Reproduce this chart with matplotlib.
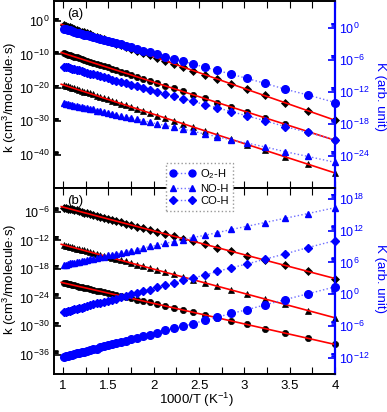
import numpy as np
import matplotlib
matplotlib.use('Agg')
import matplotlib.pyplot as plt
from matplotlib.ticker import (FixedLocator, LogFormatterSciNotation, MultipleLocator,
                               NullFormatter, FuncFormatter)
from matplotlib.lines import Line2D

plt.rcParams['font.family'] = ['Liberation Sans', 'DejaVu Sans']
plt.rcParams['mathtext.default'] = 'regular'
plt.rcParams['font.size'] = 9

# temperatures (K) of the computed points; x axis is 1000/T
temps = [250, 270, 290, 310, 330, 350, 370, 390, 410, 430, 450, 470, 490, 510, 530, 550,
         570, 590, 610, 630, 650, 670, 690, 710, 730, 750, 770, 790, 810, 830, 850, 870,
         890, 910, 930, 950, 970, 990]

# ---- panel (a): log10 k, left axis (black)
a_k_diamond = [-29.7, -26.9, -24.5, -22.3, -20.5, -18.8, -17.4, -16.1, -14.9, -13.8, -12.8,
               -11.9, -11.1, -10.3, -9.6, -9.0, -8.4, -7.8, -7.3, -6.8, -6.3, -5.9, -5.5,
               -5.1, -4.7, -4.4, -4.0, -3.7, -3.4, -3.2, -2.9, -2.6, -2.4, -2.1, -1.9, -1.7,
               -1.5, -1.3]
a_k_circle = [-35.7, -33.1, -30.9, -29.0, -27.3, -25.8, -24.4, -23.2, -22.1, -21.1, -20.2,
              -19.4, -18.7, -18.0, -17.3, -16.7, -16.2, -15.6, -15.2, -14.7, -14.3, -13.9,
              -13.5, -13.2, -12.8, -12.5, -12.2, -11.9, -11.6, -11.4, -11.1, -10.9, -10.7,
              -10.5, -10.3, -10.1, -9.9, -9.7]
a_k_triangle = [-45.5, -42.9, -40.6, -38.7, -37.0, -35.4, -34.1, -32.9, -31.8, -30.8, -29.9,
                -29.0, -28.3, -27.6, -26.9, -26.3, -25.7, -25.2, -24.7, -24.3, -23.8, -23.4,
                -23.1, -22.7, -22.4, -22.0, -21.7, -21.4, -21.2, -20.9, -20.7, -20.4, -20.2,
                -20.0, -19.8, -19.6, -19.4, -19.2]
# ---- panel (a): log10 K, right axis (blue)
a_K_o2h = [-14.0, -12.6, -11.5, -10.4, -9.5, -8.7, -8.0, -7.4, -6.8, -6.3, -5.8, -5.4, -5.0,
           -4.6, -4.3, -4.0, -3.7, -3.4, -3.1, -2.9, -2.7, -2.5, -2.3, -2.1, -1.9, -1.7,
           -1.6, -1.4, -1.3, -1.1, -1.0, -0.9, -0.8, -0.7, -0.5, -0.4, -0.3, -0.3]
a_K_coh = [-21.0, -19.6, -18.5, -17.4, -16.5, -15.7, -15.0, -14.4, -13.8, -13.3, -12.8,
           -12.4, -12.0, -11.6, -11.3, -11.0, -10.7, -10.4, -10.1, -9.9, -9.7, -9.5, -9.3,
           -9.1, -8.9, -8.7, -8.6, -8.4, -8.3, -8.1, -8.0, -7.9, -7.8, -7.7, -7.5, -7.4,
           -7.3, -7.3]
a_K_noh = [-25.2, -24.1, -23.2, -22.3, -21.6, -21.0, -20.4, -19.9, -19.4, -19.0, -18.6,
           -18.3, -18.0, -17.7, -17.4, -17.1, -16.9, -16.7, -16.5, -16.3, -16.1, -15.9,
           -15.8, -15.6, -15.5, -15.3, -15.2, -15.1, -15.0, -14.9, -14.8, -14.7, -14.6,
           -14.5, -14.4, -14.3, -14.2, -14.1]

# ---- panel (b): log10 k, left axis (black)
b_k_diamond = [-20.0, -18.5, -17.2, -16.1, -15.2, -14.3, -13.5, -12.8, -12.2, -11.6, -11.1,
               -10.6, -10.2, -9.8, -9.4, -9.1, -8.8, -8.5, -8.2, -7.9, -7.7, -7.5, -7.2,
               -7.0, -6.9, -6.7, -6.5, -6.3, -6.2, -6.0, -5.9, -5.7, -5.6, -5.5, -5.4, -5.3,
               -5.2, -5.1]
b_k_triangle = [-28.2, -26.7, -25.4, -24.3, -23.3, -22.4, -21.6, -20.9, -20.2, -19.7, -19.1,
                -18.7, -18.2, -17.8, -17.4, -17.1, -16.7, -16.4, -16.2, -15.9, -15.6, -15.4,
                -15.2, -15.0, -14.8, -14.6, -14.4, -14.3, -14.1, -14.0, -13.8, -13.7, -13.5,
                -13.4, -13.3, -13.2, -13.1, -13.0]
b_k_circle = [-33.8, -32.5, -31.4, -30.5, -29.6, -28.9, -28.2, -27.6, -27.1, -26.6, -26.2,
              -25.8, -25.4, -25.0, -24.7, -24.4, -24.1, -23.9, -23.6, -23.4, -23.2, -23.0,
              -22.8, -22.7, -22.5, -22.3, -22.2, -22.0, -21.9, -21.8, -21.7, -21.5, -21.4,
              -21.3, -21.2, -21.1, -21.0, -20.9]
# ---- panel (b): log10 K, right axis (blue)
b_K_noh = [16.3, 15.2, 14.3, 13.5, 12.8, 12.2, 11.6, 11.1, 10.7, 10.3, 9.9, 9.6, 9.2, 9.0,
           8.7, 8.4, 8.2, 8.0, 7.8, 7.6, 7.4, 7.3, 7.1, 7.0, 6.8, 6.7, 6.6, 6.5, 6.3, 6.2,
           6.1, 6.0, 5.9, 5.9, 5.8, 5.7, 5.6, 5.5]
b_K_coh = [10.1, 8.8, 7.6, 6.6, 5.7, 5.0, 4.3, 3.6, 3.1, 2.6, 2.1, 1.7, 1.3, 0.9, 0.6, 0.3,
           0.0, -0.3, -0.5, -0.8, -1.0, -1.2, -1.4, -1.6, -1.7, -1.9, -2.1, -2.2, -2.3,
           -2.5, -2.6, -2.7, -2.8, -3.0, -3.1, -3.2, -3.3, -3.4]
b_K_o2h = [1.4, 0.1, -1.0, -2.0, -2.9, -3.6, -4.3, -4.9, -5.5, -6.0, -6.4, -6.8, -7.2, -7.6,
           -7.9, -8.2, -8.5, -8.7, -9.0, -9.2, -9.4, -9.6, -9.8, -10.0, -10.2, -10.3, -10.5,
           -10.6, -10.8, -10.9, -11.0, -11.1, -11.3, -11.4, -11.5, -11.6, -11.7, -11.8]

x = 1000.0 / np.array(temps)
BLUE = '#0000ff'
DOTS = '#6f6fff'

fig = plt.figure(figsize=(3.87, 4.12), dpi=100)


def log_axis(axis, majors):
    axis.set_major_locator(FixedLocator([10.0 ** e for e in majors]))
    axis.set_minor_locator(FixedLocator([k * 10.0 ** e for e in majors for k in range(2, 10)]))
    axis.set_major_formatter(LogFormatterSciNotation())
    axis.set_minor_formatter(NullFormatter())


def panel(rect, k_sets, K_sets, lylim, rylim, lmaj, rmaj, tag, xlabels):
    ax = fig.add_axes(rect)
    ax2 = ax.twinx()
    ax.set_yscale('log')
    ax2.set_yscale('log')

    for marker, ms, logk in k_sets:
        ax.plot(x, 10.0 ** np.array(logk), ls='none', marker=marker, ms=ms,
                mfc='black', mec='black', mew=0.5, clip_on=False, zorder=3)
        p = np.polyfit(x, logk, 1)
        xf = np.array([0.98, 4.0])
        ax.plot(xf, 10.0 ** np.polyval(p, xf), color='red', lw=1.2, zorder=4)

    for marker, ms, logK in K_sets:
        ax2.plot(x, 10.0 ** np.array(logK), ls=':', lw=1.0, color=DOTS, marker=marker,
                 ms=ms, mfc=BLUE, mec=BLUE, clip_on=False)

    ax.set_xlim(0.9, 4.0)
    ax.set_ylim(*lylim)
    ax2.set_ylim(*rylim)
    log_axis(ax.yaxis, lmaj)
    log_axis(ax2.yaxis, rmaj)

    ax.xaxis.set_major_locator(MultipleLocator(0.5))
    ax.xaxis.set_minor_locator(MultipleLocator(0.25))
    ax.xaxis.set_major_formatter(FuncFormatter(lambda v, pos: '%g' % v))
    ax.tick_params(axis='x', which='both', direction='in', top=True, length=5, width=0.8,
                   labelbottom=xlabels, labelsize=9.5, pad=4)
    ax.tick_params(axis='y', which='major', direction='in', length=5, width=1.2,
                   right=False, labelsize=9, pad=3)
    ax.tick_params(axis='y', which='minor', direction='in', length=3, width=0.6, right=False)
    ax2.tick_params(axis='y', which='major', direction='in', length=5, width=1.2,
                    colors=BLUE, labelsize=9, pad=3)
    ax2.tick_params(axis='y', which='minor', direction='in', length=3, width=0.6, colors=BLUE)

    for a in (ax, ax2):
        for s in a.spines.values():
            s.set_linewidth(1.2)
    ax.spines['right'].set_visible(False)
    ax2.spines['right'].set_color(BLUE)
    ax2.spines['right'].set_linewidth(1.6)

    ax.text(0.075, 0.93, tag, transform=ax.transAxes, ha='center', va='center', fontsize=9.5)
    return ax, ax2


panel([0.1395, 0.5437, 0.7261, 0.4539],
      [('D', 4.0, a_k_diamond), ('o', 4.5, a_k_circle), ('^', 4.5, a_k_triangle)],
      [('o', 5.5, a_K_o2h), ('D', 4.5, a_K_coh), ('^', 5.0, a_K_noh)],
      (1e-50, 1e6), (1e-30, 1e5), [0, -10, -20, -30, -40], [0, -6, -12, -18, -24],
      '(a)', False)
ax_b, _ = panel([0.1395, 0.0922, 0.7261, 0.4515],
                [('D', 4.0, b_k_diamond), ('^', 4.5, b_k_triangle), ('o', 4.5, b_k_circle)],
                [('^', 5.0, b_K_noh), ('D', 4.5, b_K_coh), ('o', 5.5, b_K_o2h)],
                (1e-40, 1e-1), (1e-15, 1e20), [-6, -12, -18, -24, -30, -36],
                [18, 12, 6, 0, -6, -12], '(b)', True)

fig.text(196 / 387, 1 - 400 / 412, '1000/T (K$^{-1}$)', ha='center', va='center',
         fontsize=9.5)

for yc in (97, 279):
    fig.text(10 / 387, 1 - yc / 412, 'k (cm$^3$/molecule·s)', rotation=90,
             ha='center', va='center', fontsize=9.5)
    fig.text(380 / 387, 1 - yc / 412, 'K (arb. unit)', rotation=270,
             ha='center', va='center', fontsize=9.5, color=BLUE)

handles = [Line2D([], [], ls=':', lw=1.0, color=DOTS, marker=m, ms=ms, mfc=BLUE, mec=BLUE)
           for m, ms in (('o', 5), ('^', 5), ('D', 4))]
leg = fig.legend(handles, ['O$_2$-H', 'NO-H', 'CO-H'], loc='center',
                 bbox_to_anchor=(0.515, 0.547), numpoints=2, fontsize=8,
                 handlelength=2.3, handletextpad=0.4, labelspacing=0.25,
                 borderpad=0.4, fancybox=False, framealpha=1)
leg.get_frame().set_edgecolor('#999999')
leg.get_frame().set_linestyle(':')
leg.get_frame().set_linewidth(1.0)

fig.savefig('out.png', dpi=100)
